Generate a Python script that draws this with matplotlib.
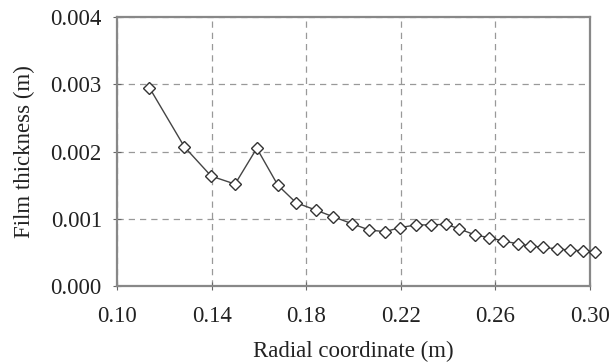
import matplotlib
matplotlib.use("Agg")
import matplotlib.pyplot as plt

radial = [0.1137, 0.1285, 0.1398, 0.1499, 0.1591, 0.1680, 0.1757, 0.1841, 0.1915, 0.1992,
          0.2067, 0.2133, 0.2197, 0.2264, 0.2326, 0.2391, 0.2448, 0.2514, 0.2574, 0.2634,
          0.2694, 0.2746, 0.2803, 0.2859, 0.2915, 0.2972, 0.3020]
thickness = [0.00295, 0.00207, 0.001636, 0.001517, 0.00205, 0.00150, 0.00124, 0.00113, 0.00103, 0.00093,
             0.000833, 0.00081, 0.00087, 0.00091, 0.00091, 0.00092, 0.00085, 0.00076, 0.00072, 0.00067,
             0.00063, 0.00060, 0.000575, 0.000555, 0.000535, 0.000525, 0.00051]
xticks = [0.10, 0.14, 0.18, 0.22, 0.26, 0.30]
yticks = [0.000, 0.001, 0.002, 0.003, 0.004]

plt.rcParams['font.family'] = ['Liberation Serif', 'DejaVu Serif']
fig = plt.figure(figsize=(6.14, 3.64), dpi=100)
ax = fig.add_axes([0.1906, 0.214, 0.961 - 0.1906, 0.953 - 0.214])
ax.plot(radial, thickness, color='#444444', lw=1.0, marker='D', markersize=6,
        markerfacecolor='white', markeredgecolor='#333333', markeredgewidth=1.0, clip_on=False, zorder=3)
ax.set_xlim(0.10, 0.30)
ax.set_ylim(0.0, 0.004)
ax.set_xticks(xticks)
ax.set_xticklabels([f"{v:.2f}" for v in xticks])
ax.set_yticks(yticks)
ax.set_yticklabels([f"{v:.3f}" for v in yticks])
ax.grid(True, color='#999999', linestyle=(0, (5, 4)), linewidth=0.9)
for s in ax.spines.values():
    s.set_color('#888888')
    s.set_linewidth(1.6)
ax.tick_params(axis='both', direction='inout', length=6, color='#666666', labelsize=16.5, colors='#222222')
ax.tick_params(axis='x', pad=11)
ax.tick_params(axis='y', pad=8)
ax.set_xlabel('Radial coordinate (m)', fontsize=16.5, color='#222222', labelpad=10)
ax.set_ylabel('Film thickness (m)', fontsize=16.5, color='#222222', labelpad=11)
fig.savefig('out.png', dpi=100)
